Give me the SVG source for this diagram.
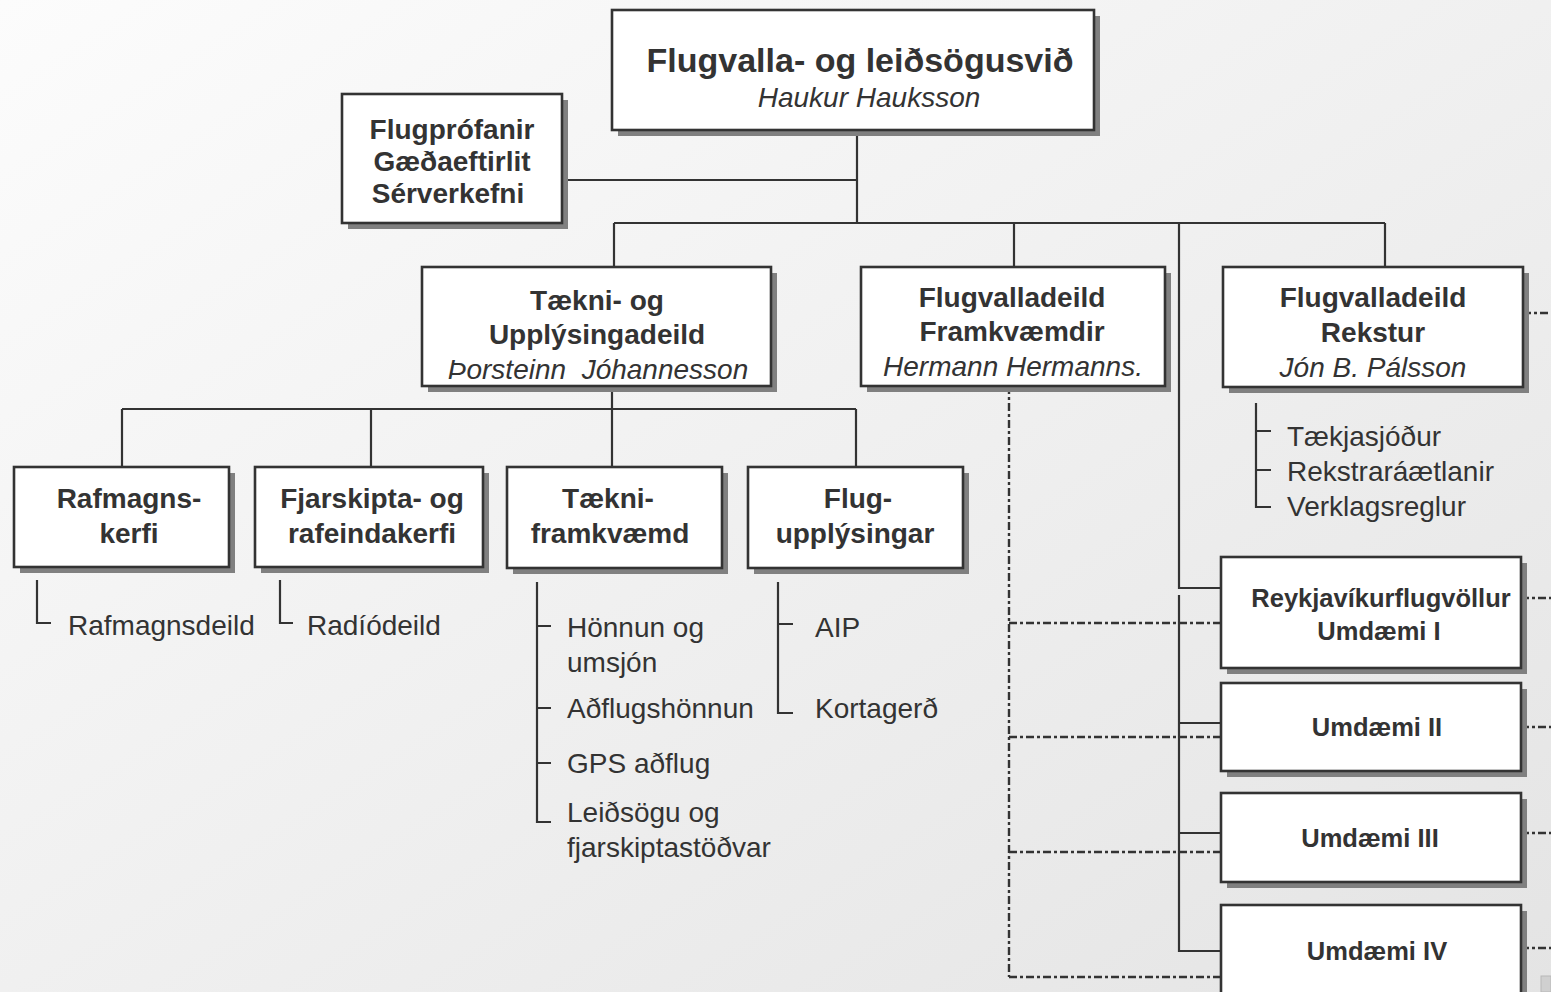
<svg xmlns="http://www.w3.org/2000/svg" width="1551" height="992" viewBox="0 0 1551 992">
<defs>
<linearGradient id="bg" x1="0" y1="0" x2="1" y2="1">
<stop offset="0" stop-color="#fcfcfc"/>
<stop offset="1" stop-color="#e4e4e4"/>
</linearGradient>
</defs>
<style>
.box{fill:#ffffff;stroke:#333333;stroke-width:2.6}
.sh{fill:#808080}
.ln{fill:none;stroke:#333333;stroke-width:2.2}
.dd{fill:none;stroke:#333333;stroke-width:2.4;stroke-dasharray:8 3 3 3}
.t{font-family:"Liberation Sans",Arial,sans-serif;font-size:28px;font-weight:bold;fill:#333333;text-anchor:middle}
.ti{font-family:"Liberation Sans",Arial,sans-serif;font-size:28px;font-style:italic;fill:#333333;text-anchor:middle;white-space:pre}
.tu{font-family:"Liberation Sans",Arial,sans-serif;font-size:25.5px;font-weight:bold;fill:#333333;text-anchor:middle}
.it{font-family:"Liberation Sans",Arial,sans-serif;font-size:28px;fill:#333333}
</style>
<rect x="0" y="0" width="1551" height="992" fill="url(#bg)"/>

<g id="connectors">
<path class="ln" d="M857 130 V223 M562 180 H857 M614 223 H1385 M614 223 V267 M1014 223 V267 M1385 223 V267 M1179 223 V588 H1221"/>
<path class="ln" d="M612 386 V409 M122 409 H856 M122 409 V467 M371 409 V467 M612 409 V467 M856 409 V467"/>
<path class="ln" d="M1179 595 V951 H1221 M1179 723 H1221 M1179 833 H1221"/>
<path class="ln" d="M37 580 V623 H51 M280 580 V623 H293"/>
<path class="ln" d="M537 582 V822 H551 M537 626 H551 M537 708 H551 M537 763 H551"/>
<path class="ln" d="M778 582 V713 H793 M778 624 H793"/>
<path class="ln" d="M1256 403 V507 H1271 M1256 431 H1271 M1256 470 H1271"/>
<path class="dd" d="M1009 386 V977 M1009 623 H1221 M1009 737 H1221 M1009 852 H1221 M1009 977 H1221"/>
<path class="dd" d="M1523 313 H1551 M1521 598 H1551 M1521 727 H1551 M1521 833 H1551 M1521 948 H1551"/>
</g>

<g id="n-top">
<rect class="sh" x="618" y="16" width="482" height="120"/>
<rect class="box" x="612" y="10" width="482" height="120"/>
<text class="t" x="860" y="72" style="font-size:34px">Flugvalla- og leiðsögusvið</text>
<text class="ti" x="869" y="107">Haukur Hauksson</text>
</g>

<g id="n-flugprofanir">
<rect class="sh" x="348" y="100" width="220" height="129"/>
<rect class="box" x="342" y="94" width="220" height="129"/>
<text class="t" x="452" y="139">Flugprófanir</text>
<text class="t" x="452" y="171">Gæðaeftirlit</text>
<text class="t" x="448" y="203">Sérverkefni</text>
</g>

<g id="n-taekni">
<rect class="sh" x="428" y="273" width="349" height="119"/>
<rect class="box" x="422" y="267" width="349" height="119"/>
<text class="t" x="597" y="310">Tækni- og</text>
<text class="t" x="597" y="344">Upplýsingadeild</text>
<text class="ti" x="598" y="379" xml:space="preserve">Þorsteinn  Jóhannesson</text>
</g>

<g id="n-framkvaemdir">
<rect class="sh" x="867" y="273" width="304" height="119"/>
<rect class="box" x="861" y="267" width="304" height="119"/>
<text class="t" x="1012" y="307">Flugvalladeild</text>
<text class="t" x="1012" y="341">Framkvæmdir</text>
<text class="ti" x="1013" y="376">Hermann Hermanns.</text>
</g>

<g id="n-rekstur">
<rect class="sh" x="1229" y="273" width="300" height="120"/>
<rect class="box" x="1223" y="267" width="300" height="120"/>
<text class="t" x="1373" y="307">Flugvalladeild</text>
<text class="t" x="1373" y="342">Rekstur</text>
<text class="ti" x="1373" y="377">Jón B. Pálsson</text>
</g>

<g id="n-rekstur-items">
<text class="it" x="1287" y="446">Tækjasjóður</text>
<text class="it" x="1287" y="481">Rekstraráætlanir</text>
<text class="it" x="1287" y="516">Verklagsreglur</text>
</g>

<g id="n-rafmagn">
<rect class="sh" x="20" y="473" width="215" height="100"/>
<rect class="box" x="14" y="467" width="215" height="100"/>
<text class="t" x="129" y="508">Rafmagns-</text>
<text class="t" x="129" y="543">kerfi</text>
<text class="it" x="68" y="635">Rafmagnsdeild</text>
</g>

<g id="n-fjarskipta">
<rect class="sh" x="261" y="473" width="228" height="100"/>
<rect class="box" x="255" y="467" width="228" height="100"/>
<text class="t" x="372" y="508">Fjarskipta- og</text>
<text class="t" x="372" y="543">rafeindakerfi</text>
<text class="it" x="307" y="635">Radíódeild</text>
</g>

<g id="n-taekniframkvaemd">
<rect class="sh" x="513" y="473" width="215" height="101"/>
<rect class="box" x="507" y="467" width="215" height="101"/>
<text class="t" x="608" y="508">Tækni-</text>
<text class="t" x="610" y="543">framkvæmd</text>
<text class="it" x="567" y="637">Hönnun og</text>
<text class="it" x="567" y="672">umsjón</text>
<text class="it" x="567" y="718">Aðflugshönnun</text>
<text class="it" x="567" y="773">GPS aðflug</text>
<text class="it" x="567" y="822">Leiðsögu og</text>
<text class="it" x="567" y="857">fjarskiptastöðvar</text>
</g>

<g id="n-fluguppl">
<rect class="sh" x="754" y="473" width="215" height="101"/>
<rect class="box" x="748" y="467" width="215" height="101"/>
<text class="t" x="858" y="508">Flug-</text>
<text class="t" x="855" y="543">upplýsingar</text>
<text class="it" x="815" y="637">AIP</text>
<text class="it" x="815" y="718">Kortagerð</text>
</g>

<g id="n-umdaemi1">
<rect class="sh" x="1227" y="563" width="300" height="111"/>
<rect class="box" x="1221" y="557" width="300" height="111"/>
<text class="tu" x="1381" y="607">Reykjavíkurflugvöllur</text>
<text class="tu" x="1379" y="640">Umdæmi I</text>
</g>

<g id="n-umdaemi2">
<rect class="sh" x="1227" y="689" width="300" height="88"/>
<rect class="box" x="1221" y="683" width="300" height="88"/>
<text class="tu" x="1377" y="736">Umdæmi II</text>
</g>

<g id="n-umdaemi3">
<rect class="sh" x="1227" y="799" width="300" height="89"/>
<rect class="box" x="1221" y="793" width="300" height="89"/>
<text class="tu" x="1370" y="847">Umdæmi III</text>
</g>

<g id="n-umdaemi4">
<rect class="sh" x="1227" y="911" width="300" height="100"/>
<rect class="box" x="1221" y="905" width="300" height="100"/>
<text class="tu" x="1377" y="960">Umdæmi IV</text>
</g>

<rect x="1541" y="976" width="10" height="16" fill="#d0d0d0" stroke="#b8b8b8" stroke-width="1"/>
</svg>
